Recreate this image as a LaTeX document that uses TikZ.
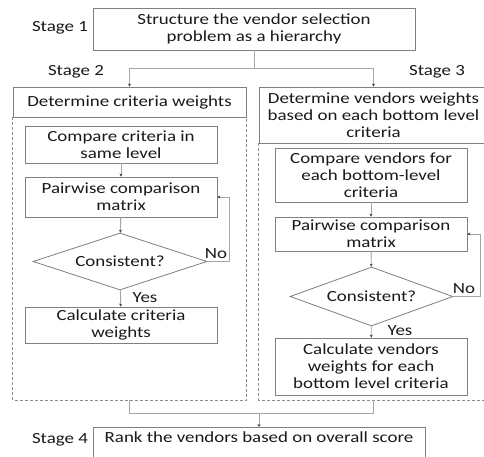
\documentclass[tikz,border=0pt]{standalone}
\usepackage{fontspec}
\setmainfont[FakeStretch=1.22]{Carlito}
\usetikzlibrary{arrows.meta,shapes.geometric}

\definecolor{inkc}{HTML}{1A1A1A}
\definecolor{edgec}{HTML}{808080}
\definecolor{linkc}{HTML}{A6A6A6}
\definecolor{tipc}{HTML}{404040}
\definecolor{framec}{HTML}{8C8C8C}

\tikzset{
  txt/.style={text=inkc, font=\fontsize{15.5}{17}\selectfont, align=center},
  box/.style={txt, draw=edgec, line width=0.8pt, inner sep=0pt},
  decision/.style={txt, draw=edgec, line width=0.8pt, shape=diamond, aspect=3,
                   inner sep=0pt},
  link/.style={draw=linkc, line width=0.9pt},
  flow/.style={link, -{Stealth[length=3pt,width=3pt,color=tipc]}},
  frame/.style={draw=framec, line width=0.8pt, dash pattern=on 3pt off 2pt},
  lbl/.style={txt, inner sep=0pt}
}

\begin{document}
\begin{tikzpicture}[x=1pt,y=-1pt]
\useasboundingbox[fill=white] (0,0) rectangle (484,457);

% Stage 1
\node[box, minimum width=322, minimum height=42] (s1) at (254,29)
  {Structure the vendor selection\\problem as a hierarchy};
\node[lbl] (st1) at (60,28) {Stage 1};

% Stage 2 column: criteria weights
\node[box, minimum width=233, minimum height=30] (hl) at (129.5,102)
  {Determine criteria weights};
\node[lbl] (st2) at (76,72) {Stage 2};
\node[box, minimum width=192, minimum height=37] (lc) at (121,144.5)
  {Compare criteria in\\same level};
\node[box, minimum width=192, minimum height=40] (lp) at (121,197)
  {Pairwise comparison\\matrix};
\node[decision, minimum width=174, minimum height=57] (ld) at (120,261.5)
  {Consistent?};
\node[box, minimum width=192, minimum height=36] (lw) at (121,325)
  {Calculate criteria\\weights};
\node[lbl] (lno) at (216,254) {No};
\node[lbl] (lyes) at (145,298) {Yes};

% Stage 3 column: vendor weights
\node[box, minimum width=229, minimum height=56] (rh) at (373.5,115)
  {Determine vendors weights\\based on each bottom level\\criteria};
\node[lbl] (st3) at (437,72) {Stage 3};
\node[box, minimum width=192, minimum height=54] (rc) at (371,175)
  {Compare vendors for\\each bottom-level\\criteria};
\node[box, minimum width=192, minimum height=34] (rp) at (371,234)
  {Pairwise comparison\\matrix};
\node[decision, minimum width=163, minimum height=59] (rd) at (371.5,296.5)
  {Consistent?};
\node[box, minimum width=192, minimum height=57] (rw) at (371,366.5)
  {Calculate vendors\\weights for each\\bottom level criteria};
\node[lbl] (rno) at (464,289) {No};
\node[lbl] (ryes) at (400,331) {Yes};

% Stage 4
\node[box, anchor=north, minimum width=332, inner ysep=4pt, text depth=28pt] (s4)
  at (259,427) {Rank the vendors based on overall score};
\node[lbl] (st4) at (60,440) {Stage 4};

% dashed containers below the two headers
\draw[frame] (hl.south west) -- ++(0,283) coordinate (lfl) -| (hl.south east);
\draw[frame] (rh.south west) -- ++(0,257) coordinate (rfl) -| (rh.south east);

% split from stage 1
\coordinate (j1) at (254,68);
\draw[link] (s1.south) -- (j1);
\draw[flow] (j1) -| (hl.north);
\draw[flow] (j1) -| (rh.north);

% left flow
\draw[flow] (lc) -- (lp);
\draw[flow] (lp) -- (ld);
\draw[flow] (ld) -- (lw);
\draw[flow] (ld.east) -- ++(22,0) |- (lp.east);

% right flow
\draw[flow] (rc) -- (rp);
\draw[flow] (rp) -- (rd);
\draw[flow] (rd) -- (rw);
\draw[flow] (rd.east) -- ++(27,0) |- (rp.east);

% merge into stage 4
\coordinate (lbot) at (129.5,400);
\coordinate (rbot) at (373.5,400);
\coordinate (j4) at (259,413);
\draw[link] (lbot) -- ++(0,13) -| (rbot);
\draw[flow] (j4) -- (s4.north);
\end{tikzpicture}
\end{document}
